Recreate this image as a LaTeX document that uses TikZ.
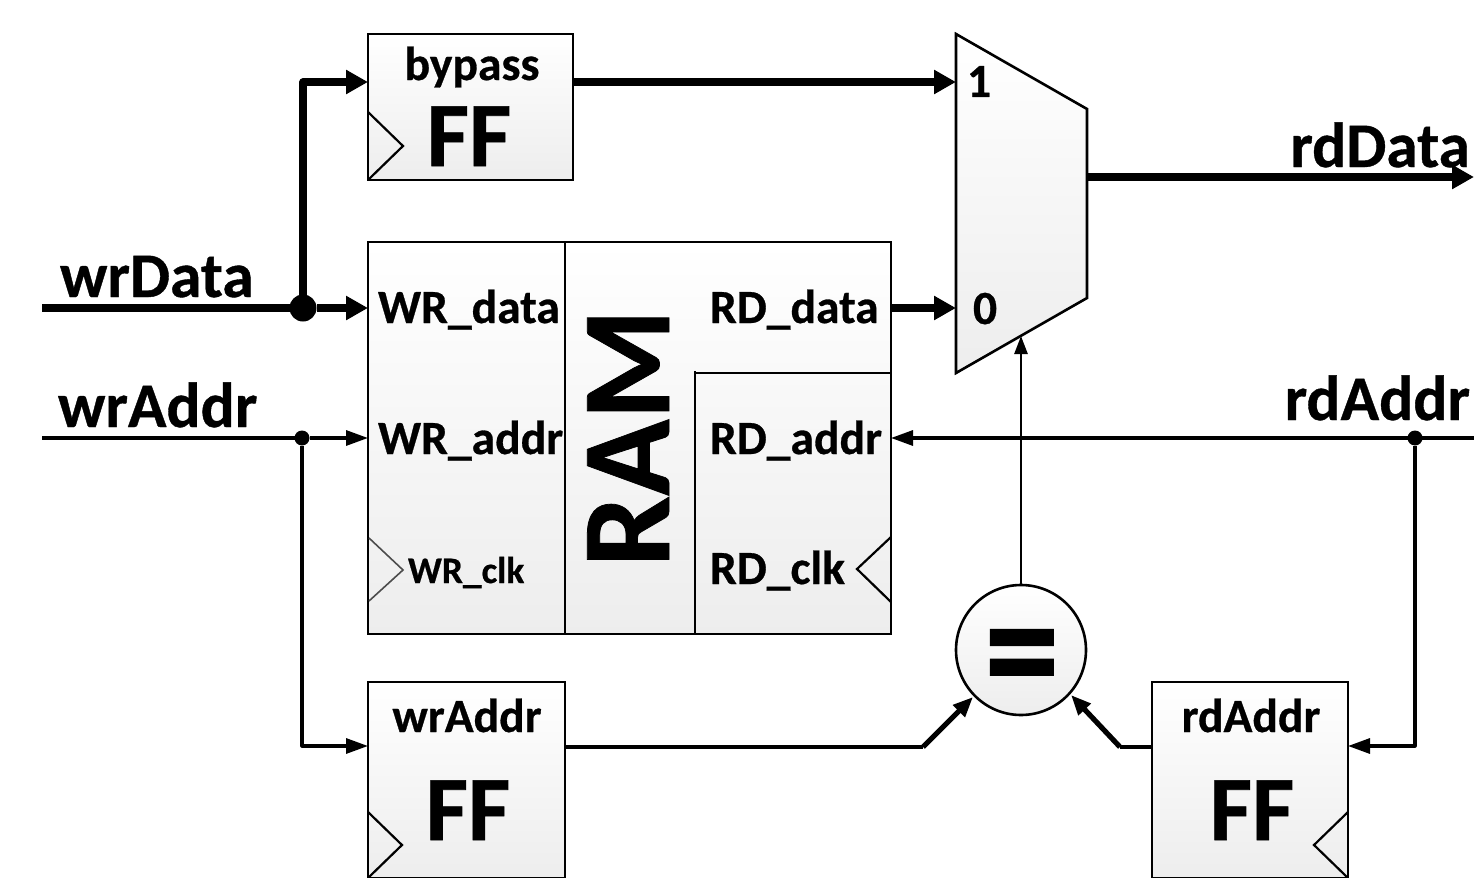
\documentclass[tikz,border=0pt]{standalone}
\usepackage{graphicx}
\usepackage{fontspec}
\setmainfont[BoldFeatures={FakeBold=0.6}]{Carlito}
\usetikzlibrary{arrows.meta,calc}
\tikzset{
  x=0.5pt,y=-0.5pt,
  gradbox/.style={draw=black,line width=1.3pt,top color=white,bottom color=black!7,inner sep=0pt,outer sep=0pt},
  bigline/.style={line width=3.6pt,line join=round,-{Triangle[length=11pt,width=11.5pt]}},
  thinline/.style={line width=1.6pt,line join=round,-{Triangle[length=11pt,width=7.5pt]}},
  selline/.style={line width=1.3pt,-{Triangle[length=9pt,width=6.5pt]}},
  slantline/.style={line width=1.7pt,line join=round},
  slanthead/.style={line width=2.6pt,-{Triangle[length=10pt,width=8pt]}},
  plainwire/.style={line width=1.6pt,line join=round},
  divider/.style={line width=1.3pt,draw=black},
  clock/.style={line width=1.1pt,draw=black},
  lab/.style={font=\fontsize{23.8}{28}\selectfont\bfseries,inner sep=0pt,outer sep=0pt},
  sig/.style={font=\fontsize{31.8}{36}\selectfont\bfseries,inner sep=0pt,outer sep=0pt},
  ffl/.style={font=\fontsize{46}{52}\selectfont\bfseries,inner sep=0pt,outer sep=0pt},
  bigdot/.style={circle,fill=black,minimum size=13.5pt,inner sep=0pt,outer sep=0pt},
  smalldot/.style={circle,fill=black,minimum size=7.5pt,inner sep=0pt,outer sep=0pt},
}
\begin{document}
\begin{tikzpicture}
\useasboundingbox (0,0) rectangle (1474,878);
% blocks
\node[gradbox,minimum width=102.5pt,minimum height=73pt] (bp) at (470.5,107) {};
\node[gradbox,minimum width=261.5pt,minimum height=196pt] (ram) at (629.5,438) {};
\node[gradbox,minimum width=98.5pt,minimum height=98pt] (wf) at (466.5,780) {};
\node[gradbox,minimum width=98pt,minimum height=98pt] (rf) at (1250,780) {};
\node[gradbox,circle,minimum size=65pt] (eq) at (1021,650) {};
\draw[gradbox] (956,34) -- (1087,109) -- (1087,298) -- (956,373) -- cycle;
\coordinate (muxA) at (956,82);
\coordinate (muxB) at (956,308);
\coordinate (muxS) at (1021,336);
\coordinate (muxO) at (1087,177);
% RAM dividers
\draw[divider] (565,242) -- (565,634);
\draw[divider] (695,371) -- (695,634);
\draw[divider] (695,373) -- (891,373);
% clocks
\draw[clock] (368,112) -- (403,146) -- (368,180);
\draw[clock] (368,812) -- (402,845) -- (368,878);
\draw[clock,draw=black!70,line width=.8pt] (369,538) -- (403,570) -- (369,601);
\draw[clock] (891,537) -- (857,569) -- (891,602);
\draw[clock] (1348,812) -- (1314,845) -- (1348,878);
% free ends and junctions
\coordinate (wdIn) at (42,308);
\coordinate (waIn) at (42,438);
\coordinate (rdOut) at (1474,177);
\coordinate (raIn) at (1474,438);
\coordinate (wfBend) at (923,747);
\coordinate (rfBend) at (1120,747);
\coordinate (bpUp) at (303,82);
\coordinate (waDown) at (302,746);
\coordinate (raDown) at (1415,746);
\coordinate (eqL) at (973,697);
\coordinate (eqR) at (1071,695);
\node[bigdot] (jd) at (303,308) {};
\node[smalldot] (ja) at (302,438) {};
\node[smalldot] (jr) at (1415,438) {};
\coordinate (rdPort) at (891,308);
% connectors
\draw[line width=3.6pt] (wdIn) -- (jd);
\draw[bigline] (jd) -- (bpUp) -- (bp.west |- bpUp);
\draw[bigline] (jd) -- (ram.west |- jd);
\draw[bigline] (bp.east |- muxA) -- (muxA);
\draw[bigline] (rdPort) -- (muxB);
\draw[bigline] (muxO) -- (rdOut);
\draw[plainwire] (waIn) -- (ja);
\draw[thinline] (ja) -- (ram.west |- ja);
\draw[thinline] (ja) -- (waDown) -- (wf.west |- waDown);
\draw[thinline] (raIn) -- (ram.east |- raIn);
\draw[thinline] (jr) -- (raDown) -- (rf.east |- raDown);
\draw[selline] (eq.north) -- (muxS);
\draw[slantline] (wf.east |- wfBend) -- (wfBend);
\draw[slanthead] (wfBend) -- (eqL);
\draw[slantline] (rf.west |- rfBend) -- (rfBend);
\draw[slanthead] (rfBend) -- (eqR);
% labels
\node[lab,anchor=base] (t1) at (472,80) {bypass};
\node[ffl,anchor=base] (t2) at (469,166) {FF};
\node[lab,anchor=base] (t3) at (467,732) {wrAddr};
\node[ffl,anchor=base] (t4) at (468,840) {FF};
\node[lab,anchor=base] (t5) at (1251,732) {rdAddr};
\node[ffl,anchor=base] (t6) at (1252,840) {FF};
\node[lab,anchor=base west] (t7) at (378,323) {WR\_data};
\node[lab,anchor=base west] (t8) at (378,454) {WR\_addr};
\node[lab,anchor=base west,font=\fontsize{18.7}{22}\selectfont\bfseries] (t9) at (408,583) {WR\_clk};
\node[lab,anchor=base west] (t10) at (710,323) {RD\_data};
\node[lab,anchor=base west] (t11) at (710,454) {RD\_addr};
\node[lab,anchor=base west] (t12) at (710,584) {RD\_clk};
\node[anchor=base,rotate=90,font=\fontsize{63}{70}\selectfont\bfseries,inner sep=0pt] (t13) at (669,438) {RAM};
\node[sig,anchor=base west] (t14) at (60,297) {wrData};
\node[sig,anchor=base west] (t15) at (58,427) {wrAddr};
\node[sig,anchor=base east] (t16) at (1470,167) {rdData};
\node[sig,anchor=base east] (t17) at (1470,420) {rdAddr};
\node[lab,anchor=base west] (t18) at (967,97) {1};
\node[lab,anchor=base west] (t19) at (973,324) {0};
\node[font=\fontsize{75}{80}\selectfont\bfseries,inner sep=0pt] (t20) at (1022,669) {\scalebox{1}[1.18]{=}};
\end{tikzpicture}
\end{document}
